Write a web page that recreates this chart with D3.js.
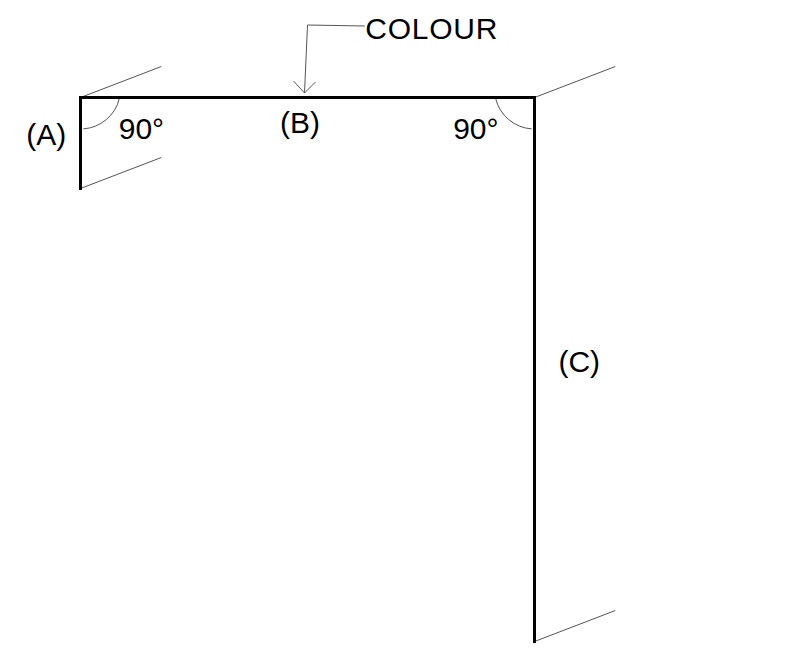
<!DOCTYPE html>
<html><head><meta charset="utf-8">
<script src="https://cdn.jsdelivr.net/npm/d3@7"></script>
<style>html,body{margin:0;padding:0;background:#fff;}svg{display:block;}</style>
</head><body>
<svg id="c" width="799" height="657"></svg>
<script>
// Profile (drawing units), segment names and labels
const profilePoints = [[0, 91], [0, 0], [455, 0], [455, 544]];
const depthEdges = [[0, 0], [0, 91], [455, 0], [455, 544]];
const depthOffset = [81, -31];
const angleMarks = [{at: [0, 0], side: 1, text: "90°", dx: 38.3}, {at: [455, 0], side: -1, text: "90°", dx: -81.5}];
const segmentLabels = [
  {text: "(A)", pos: [-54.3, 47.5]},
  {text: "(B)", pos: [200, 35.5]},
  {text: "(C)", pos: [479, 274.5]}
];
const calloutText = "COLOUR";
const calloutPath = [[285, -71.5], [227.5, -72.5], [224.5, -4.5]];

const svg = d3.select("#c");
const x = d3.scaleLinear().domain([0, 455]).range([80.5, 534.5]);
const y = d3.scaleLinear().domain([0, 544]).range([97.5, 641.5]);
const font = "'Liberation Sans', Arial, sans-serif";
const fs = 30;

// thin perspective lines
svg.selectAll("line.depth").data(depthEdges).join("line")
  .attr("x1", d => x(d[0])).attr("y1", d => y(d[1]))
  .attr("x2", d => x(d[0] + depthOffset[0])).attr("y2", d => y(d[1] + depthOffset[1]))
  .attr("stroke", "#555").attr("stroke-width", 1);

// angle arcs
const r = 40;
angleMarks.forEach(m => {
  const cx = x(m.at[0]), cy = y(m.at[1]) - 8.5;
  const a0 = 14 * Math.PI / 180, a1 = 86 * Math.PI / 180;
  const p = d3.path();
  if (m.side > 0) {
    p.arc(cx, cy, r, a0, a1, false);
  } else {
    p.arc(cx, cy, r, Math.PI - a0, Math.PI - a1, true);
  }
  svg.append("path").attr("d", p.toString()).attr("fill", "none")
    .attr("stroke", "#555").attr("stroke-width", 1);
});

// thick profile
svg.append("path")
  .attr("d", d3.line().x(d => x(d[0])).y(d => y(d[1]))(profilePoints))
  .attr("fill", "none").attr("stroke", "#000").attr("stroke-width", 3)
  .attr("stroke-linejoin", "miter").attr("stroke-linecap", "square");

// callout leader + arrow
svg.append("path")
  .attr("d", d3.line().x(d => x(d[0])).y(d => y(d[1])) (calloutPath))
  .attr("fill", "none").attr("stroke", "#555").attr("stroke-width", 1);
const tip = calloutPath[calloutPath.length - 1];
svg.append("path")
  .attr("d", d3.line().x(d => x(d[0])).y(d => y(d[1]))([[tip[0] - 11, tip[1] - 12], tip, [tip[0] + 11, tip[1] - 11]]))
  .attr("fill", "none").attr("stroke", "#555").attr("stroke-width", 1);

svg.append("text").attr("x", x(285.5)).attr("y", y(-58.2))
  .attr("font-family", font).attr("font-size", fs).attr("fill", "#000")
  .attr("textLength", 132).attr("lengthAdjust", "spacing")
  .text(calloutText);

// labels
svg.selectAll("text.seg").data(segmentLabels).join("text").attr("class", "seg")
  .attr("x", d => x(d.pos[0])).attr("y", d => y(d.pos[1]))
  .attr("font-family", font).attr("font-size", fs).attr("fill", "#000")
  .text(d => d.text);

svg.selectAll("text.ang").data(angleMarks).join("text").attr("class", "ang")
  .attr("x", d => x(d.at[0] + d.dx))
  .attr("y", y(41.5))
  .attr("font-family", font).attr("font-size", fs).attr("fill", "#000")
  .text(d => d.text);
</script>
</body></html>
